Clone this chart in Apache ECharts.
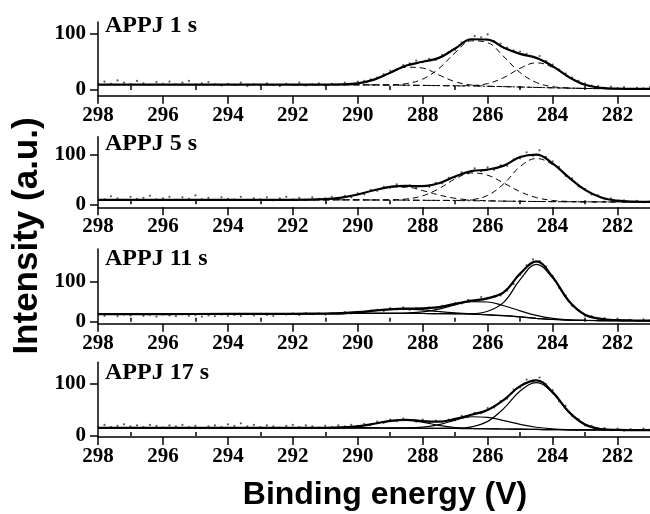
<!DOCTYPE html>
<html>
<head>
<meta charset="utf-8">
<script src="https://cdn.jsdelivr.net/npm/echarts@6/dist/echarts.min.js"></script>
<style>
  html, body { margin: 0; padding: 0; background: #fff; }
  #chart { width: 650px; height: 514px; }
</style>
</head>
<body>
<div id="chart"></div>
<script>
// binding energies (eV) where the fitted curves are sampled
var curveEnergy = [298, 296, 294, 292, 291, 290.5, 290, 289.5, 289, 288.5, 288, 287.5, 287, 286.5, 286, 285.5, 285, 284.5, 284, 283.5, 283, 282.5, 282, 281.5, 281];

// tick labels
var xTicks = [298, 296, 294, 292, 290, 288, 286, 284, 282];
var xMinorTicks = [297, 295, 293, 291, 289, 287, 285, 283];
var yTicks = [0, 100];
var yMinorTicks = [50];

var panelTitles = ['APPJ 1 s', 'APPJ 5 s', 'APPJ 11 s', 'APPJ 17 s'];

// ---- APPJ 1 s
var base1 = [9.5, 9.5, 9.5, 9.5, 9.5, 9.4, 9.2, 9.0, 8.8, 8.5, 8.2, 7.8, 7.4, 7.0, 6.5, 6.0, 5.3, 4.6, 3.9, 3.3, 2.8, 2.5, 2.3, 2.2, 2.2];
var fit1 = [9.5, 9.5, 9.5, 9.5, 9.6, 9.9, 11.7, 18.3, 30.6, 43.2, 49.8, 56.7, 73.2, 89.6, 88.8, 74.7, 63.7, 56.7, 42.2, 22.9, 9.2, 3.9, 2.5, 2.2, 2.2];
var peak1a = [null, null, null, 9.5, 9.5, 9.85, 11.7, 18.2, 30.1, 40.3, 38.7, 26.5, 14.7, 8.8, 6.8, 6.0, 5.3, 4.6, 3.9, 3.3, 2.8, 2.5, 2.3, 2.2, 2.2];
var peak1b = [null, null, null, 9.5, 9.5, 9.4, 9.2, 9.1, 9.3, 11.4, 19.3, 38.0, 65.8, 86.8, 83.6, 58.7, 30.7, 13.3, 6.0, 3.7, 2.8, 2.5, 2.3, 2.2, 2.2];
var peak1c = [null, null, null, 9.5, 9.5, 9.4, 9.2, 9.0, 8.8, 8.5, 8.2, 7.8, 7.5, 8.0, 11.4, 22.0, 38.3, 48.0, 40.1, 22.5, 9.2, 3.9, 2.5, 2.2, 2.2];
var dots1 = [12, 15, 11, 17, 13, 10, 16, 12, 9, 14, 11, 15, 10, 13, 16, 9, 12, 14, 10, 8, 11, 9, 13, 7, 10, 8, 12, 9, 7, 11, 9, 13, 8, 10, 12, 8, 11, 9, 13, 10, 15, 16, 19, 22, 28, 34, 36, 44, 47, 52, 49, 55, 53, 62, 67, 71, 84, 88, 95, 93, 98, 86, 82, 75, 70, 68, 64, 58, 60, 51, 45, 36, 29, 22, 16, 12, 8, 7, 4, 6, 3, 5, 2, 4, 3, 5];

// ---- APPJ 5 s
var base2 = [9, 9, 9, 9, 9, 8.9, 8.8, 8.6, 8.5, 8.3, 8.0, 7.8, 7.5, 7.1, 6.8, 6.3, 6.0, 5.6, 5.3, 5.1, 4.9, 4.8, 4.7, 4.7, 4.7];
var fit2 = [9, 9, 9, 9, 10.4, 13.4, 19.6, 28.1, 35.0, 36.7, 36.4, 42.2, 55.6, 66.3, 69.5, 77.4, 94.6, 99.5, 81.7, 53.9, 28.8, 13.7, 7.2, 5.2, 4.8];
var peak2a = [null, null, null, 9, 10.4, 13.4, 19.6, 28.0, 34.5, 34.3, 27.4, 18.6, 12.0, 8.5, 7.1, 6.3, 6.0, 5.6, 5.3, 5.1, 4.9, 4.8, 4.7, 4.7, 4.7];
var peak2b = [null, null, null, 9, 9, 8.9, 8.8, 8.7, 8.95, 10.7, 17.0, 31.4, 50.8, 62.7, 58.1, 42.4, 25.3, 13.5, 7.7, 5.7, 5.0, 4.8, 4.7, 4.7, 4.7];
var peak2c = [null, null, null, 9, 9, 8.9, 8.8, 8.6, 8.5, 8.3, 8.0, 7.8, 7.8, 9.3, 17.9, 41.3, 75.3, 91.6, 79.3, 53.3, 28.7, 13.7, 7.2, 5.2, 4.8];
var dots2 = [14, 10, 16, 12, 9, 15, 11, 13, 17, 10, 12, 15, 9, 14, 11, 18, 10, 13, 9, 14, 11, 10, 15, 9, 12, 10, 14, 8, 12, 15, 10, 13, 9, 14, 11, 12, 15, 11, 17, 14, 22, 20, 29, 27, 35, 33, 40, 35, 38, 33, 37, 35, 43, 42, 53, 54, 64, 62, 72, 66, 74, 69, 78, 77, 90, 92, 104, 97, 108, 95, 86, 75, 57, 52, 36, 31, 20, 18, 10, 12, 6, 8, 5, 7, 4, 6];

// ---- APPJ 11 s
var base3 = [19, 19.3, 19.6, 20, 20.4, 20.6, 20.8, 21, 21, 21, 20.8, 20.5, 20, 19, 17.5, 15.3, 12.3, 8.8, 5.8, 4.2, 3.4, 3.1, 2.9, 2.8, 2.8];
var fit3 = [19, 19.3, 19.6, 20, 20.7, 21.8, 24.1, 27.7, 31.2, 32.9, 33.5, 36.9, 45, 52.8, 58.7, 74.2, 120.4, 150.9, 112.3, 52, 17.6, 7.1, 4.1, 3.2, 2.9];
var peak3a = [null, null, null, 20, 20.7, 21.8, 24.1, 27.7, 31.0, 31.9, 29.6, 25.7, 22.3, 19.7, 17.65, 15.3, 12.3, 8.8, 5.8, 4.2, 3.4, 3.1, 2.9, 2.8, 2.8];
var peak3b = [null, null, null, 20, 20.4, 20.6, 20.8, 21, 21.2, 22, 24.7, 31.7, 42.4, 50.6, 49.5, 40.2, 27.4, 15.9, 8.5, 4.9, 3.6, 3.1, 2.9, 2.8, 2.8];
var peak3c = [null, null, null, 20, 20.4, 20.6, 20.8, 21, 21, 21, 20.8, 20.5, 20.3, 20.5, 26.5, 49.3, 105.3, 143.8, 109.6, 51.3, 17.4, 7.1, 4.1, 3.2, 2.9];
var dots3 = [17, 15, 19, 14, 18, 16, 20, 15, 17, 13, 18, 16, 14, 19, 15, 17, 13, 16, 14, 18, 15, 17, 14, 19, 16, 20, 17, 15, 19, 18, 21, 17, 22, 19, 21, 18, 22, 20, 24, 21, 25, 23, 28, 30, 27, 34, 31, 36, 30, 34, 31, 36, 33, 40, 39, 47, 46, 55, 52, 62, 60, 64, 66, 78, 94, 118, 141, 156, 152, 138, 115, 85, 66, 40, 28, 15, 14, 7, 9, 4, 8, 3, 5, 2, 6, 3];

// ---- APPJ 17 s
var base4 = [15.5, 15.5, 15.5, 15.5, 15.5, 15.4, 15.3, 15.15, 15, 14.8, 14.6, 14.4, 14.2, 13.9, 13.6, 13.2, 12.8, 12.3, 11.9, 11.6, 11.4, 11.3, 11.2, 11.15, 11.1];
var fit4 = [15.5, 15.5, 15.5, 15.5, 15.6, 16.2, 18.3, 23.1, 28.6, 30.6, 28.2, 27.2, 32.3, 40.2, 49.4, 68.4, 94.6, 105.5, 83.2, 45.7, 21.6, 13.1, 11.4, 11.2, 11.1];
var peak4a = [null, null, null, 15.5, 15.6, 16.2, 18.3, 23.1, 28.6, 30.2, 26.1, 20.1, 16.0, 14.3, 13.65, 13.2, 12.8, 12.3, 11.9, 11.6, 11.4, 11.3, 11.2, 11.15, 11.1];
var peak4b = [null, null, null, 15.5, 15.5, 15.4, 15.3, 15.15, 15, 15.2, 16.7, 21.5, 30.0, 36.4, 35.2, 29.2, 22.1, 16.5, 13.4, 12.0, 11.5, 11.3, 11.2, 11.15, 11.1];
var peak4c = [null, null, null, 15.5, 15.5, 15.4, 15.3, 15.15, 15, 14.8, 14.6, 14.4, 14.7, 17.3, 27.7, 52.4, 85.3, 101.3, 81.7, 45.3, 21.5, 13.1, 11.4, 11.15, 11.1];
var dots4 = [18, 21, 17, 19, 22, 18, 20, 17, 21, 19, 16, 20, 18, 21, 17, 19, 15, 18, 20, 17, 22, 19, 24, 18, 21, 17, 20, 18, 16, 19, 21, 17, 20, 18, 16, 19, 17, 20, 18, 21, 19, 23, 21, 27, 25, 31, 28, 33, 30, 27, 31, 25, 29, 26, 31, 30, 38, 36, 44, 43, 53, 54, 66, 71, 88, 92, 107, 103, 111, 98, 87, 66, 57, 38, 32, 20, 19, 13, 15, 11, 14, 10, 13, 11, 14, 12];

// measured points are every 0.2 eV from 298 down
var dotEnergy = dots1.map(function (_, i) { return +(298 - 0.2 * i).toFixed(1); });

var panels = [
  { dots: dots1, fit: fit1, base: base1, peaks: [peak1a, peak1b, peak1c], dashed: true },
  { dots: dots2, fit: fit2, base: base2, peaks: [peak2a, peak2b, peak2c], dashed: true },
  { dots: dots3, fit: fit3, base: base3, peaks: [peak3a, peak3b, peak3c], dashed: false },
  { dots: dots4, fit: fit4, base: base4, peaks: [peak4a, peak4b, peak4c], dashed: false }
];

// grid placement of each panel
var layout = [
  { top: 22, height: 73.7, min: -10, max: 120, titleTop: 13.8 },
  { top: 136.8, height: 70.5, min: -6, max: 135, titleTop: 132.2 },
  { top: 249, height: 74.8, min: -5, max: 182, titleTop: 247.2 },
  { top: 362.2, height: 74.8, min: -2, max: 140, titleTop: 360.5 }
];

var serif = '"Liberation Serif", "Times New Roman", serif';
var sans = '"Liberation Sans", Arial, sans-serif';

function pairs(xs, ys) {
  var out = [];
  for (var i = 0; i < xs.length; i++) {
    if (ys[i] != null) out.push([xs[i], ys[i]]);
  }
  return out;
}

var grid = [], xAxis = [], yAxis = [], series = [], title = [];
var axisLine = { show: true, onZero: false, lineStyle: { color: '#000', width: 1.5 } };
var tickStyle = { color: '#000', width: 1.5 };
var labelStyle = { color: '#000', fontSize: 21, fontWeight: 'bold', fontFamily: serif };

panels.forEach(function (p, i) {
  var L = layout[i];
  grid.push({ left: 98, width: 552, top: L.top, height: L.height, containLabel: false });

  xAxis.push({
    type: 'value', gridIndex: i, min: 281, max: 298, inverse: true,
    axisLine: axisLine,
    axisTick: { show: true, length: 8, customValues: xTicks, lineStyle: tickStyle },
    axisLabel: Object.assign({ customValues: xTicks, margin: 9 }, labelStyle),
    splitLine: { show: false }
  });
  xAxis.push({
    type: 'value', gridIndex: i, min: 281, max: 298, inverse: true,
    axisLine: { show: false },
    axisTick: { show: true, length: 4, customValues: xMinorTicks, lineStyle: tickStyle },
    axisLabel: { show: false },
    splitLine: { show: false }
  });
  yAxis.push({
    type: 'value', gridIndex: i, min: L.min, max: L.max,
    axisLine: axisLine,
    axisTick: { show: true, length: 8, customValues: yTicks, lineStyle: tickStyle },
    axisLabel: Object.assign({ customValues: yTicks, margin: 12 }, labelStyle),
    splitLine: { show: false }
  });
  yAxis.push({
    type: 'value', gridIndex: i, min: L.min, max: L.max,
    axisLine: { show: false },
    axisTick: { show: true, length: 4, customValues: yMinorTicks, lineStyle: tickStyle },
    axisLabel: { show: false },
    splitLine: { show: false }
  });

  title.push({
    text: panelTitles[i], left: 105, top: L.titleTop, padding: 0,
    textStyle: { color: '#000', fontSize: 24, fontWeight: 'bold', fontFamily: serif }
  });

  var xi = 2 * i, yi = 2 * i;
  series.push({
    type: 'scatter', xAxisIndex: xi, yAxisIndex: yi, symbolSize: 2.2,
    itemStyle: { color: '#333' }, data: pairs(dotEnergy, p.dots), silent: true
  });
  var thin = p.dashed
    ? { color: '#000', width: 1, type: [6, 4] }
    : { color: '#000', width: 1.2, type: 'solid' };
  var baseStyle = p.dashed
    ? { color: '#000', width: 1, type: [7, 3, 2, 3] }
    : { color: '#000', width: 1.2, type: 'solid' };
  series.push({
    type: 'line', xAxisIndex: xi, yAxisIndex: yi, showSymbol: false, smooth: 0.4,
    lineStyle: baseStyle, data: pairs(curveEnergy, p.base), silent: true
  });
  p.peaks.forEach(function (pk) {
    series.push({
      type: 'line', xAxisIndex: xi, yAxisIndex: yi, showSymbol: false, smooth: 0.4,
      lineStyle: thin, data: pairs(curveEnergy, pk), silent: true
    });
  });
  series.push({
    type: 'line', xAxisIndex: xi, yAxisIndex: yi, showSymbol: false, smooth: 0.4,
    lineStyle: { color: '#000', width: 2.2 }, data: pairs(curveEnergy, p.fit), silent: true
  });
});

var chart = echarts.init(document.getElementById('chart'));
chart.setOption({
  animation: false,
  backgroundColor: '#fff',
  title: title,
  grid: grid,
  xAxis: xAxis,
  yAxis: yAxis,
  series: series,
  graphic: [
    {
      type: 'text', x: 27, y: 236, rotation: Math.PI / 2,
      style: { text: 'Intensity (a.u.)', font: 'bold 35px ' + sans, fill: '#000', textAlign: 'center', textVerticalAlign: 'middle' }
    },
    {
      type: 'text', x: 385, y: 495,
      style: { text: 'Binding energy (V)', font: 'bold 32px ' + sans, fill: '#000', textAlign: 'center', textVerticalAlign: 'middle' }
    }
  ]
});
</script>
</body>
</html>
